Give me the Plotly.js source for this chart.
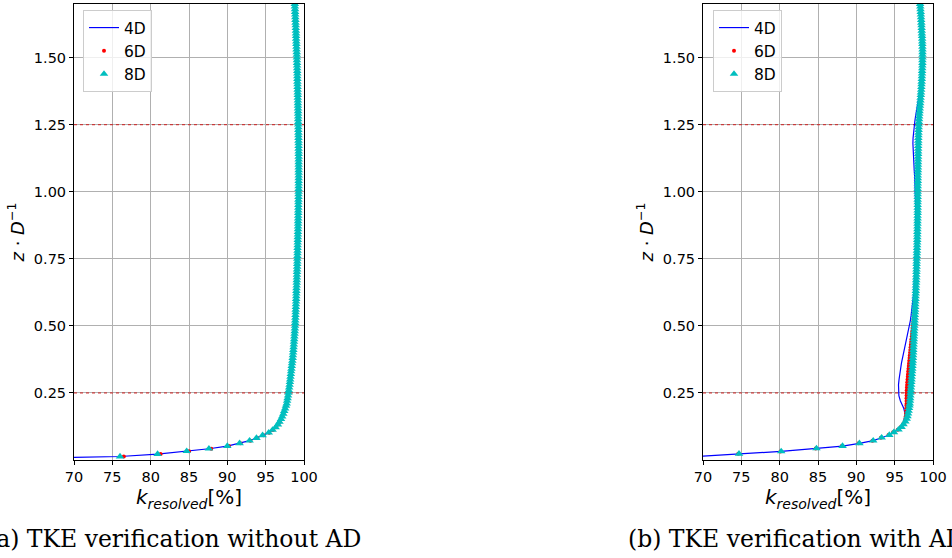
<!DOCTYPE html>
<html>
<head>
<meta charset="utf-8">
<script src="https://cdn.plot.ly/plotly-3.0.1.min.js"></script>
<style>
  html, body { margin: 0; padding: 0; background: #ffffff; }
  #chart { width: 952px; height: 558px; }
</style>
</head>
<body>
<div id="chart"></div>
<script>
// ---------------- DATA ----------------
// Heights z/D near the ground for panel (a) and panel (b)
const zLowA = [0.003, 0.013, 0.022, 0.033, 0.042, 0.052, 0.062, 0.072, 0.082, 0.092, 0.102,
               0.112, 0.122, 0.132, 0.142, 0.152, 0.162, 0.172, 0.182, 0.192, 0.202];
const zLowB = [0.008, 0.023, 0.032, 0.043, 0.052, 0.062, 0.072, 0.083, 0.093, 0.103,
               0.113, 0.123, 0.133, 0.143, 0.153, 0.163, 0.173, 0.183, 0.193, 0.203];
// Heights z/D above 0.2 (0.01 spacing), shared by both panels
const zUp = [0.21, 0.22, 0.23, 0.24, 0.25, 0.26, 0.27, 0.28, 0.29, 0.30,
             0.31, 0.32, 0.33, 0.34, 0.35, 0.36, 0.37, 0.38, 0.39, 0.40,
             0.41, 0.42, 0.43, 0.44, 0.45, 0.46, 0.47, 0.48, 0.49, 0.50,
             0.51, 0.52, 0.53, 0.54, 0.55, 0.56, 0.57, 0.58, 0.59, 0.60,
             0.61, 0.62, 0.63, 0.64, 0.65, 0.66, 0.67, 0.68, 0.69, 0.70,
             0.71, 0.72, 0.73, 0.74, 0.75, 0.76, 0.77, 0.78, 0.79, 0.80,
             0.81, 0.82, 0.83, 0.84, 0.85, 0.86, 0.87, 0.88, 0.89, 0.90,
             0.91, 0.92, 0.93, 0.94, 0.95, 0.96, 0.97, 0.98, 0.99, 1.00,
             1.01, 1.02, 1.03, 1.04, 1.05, 1.06, 1.07, 1.08, 1.09, 1.10,
             1.11, 1.12, 1.13, 1.14, 1.15, 1.16, 1.17, 1.18, 1.19, 1.20,
             1.21, 1.22, 1.23, 1.24, 1.25, 1.26, 1.27, 1.28, 1.29, 1.30,
             1.31, 1.32, 1.33, 1.34, 1.35, 1.36, 1.37, 1.38, 1.39, 1.40,
             1.41, 1.42, 1.43, 1.44, 1.45, 1.46, 1.47, 1.48, 1.49, 1.50,
             1.51, 1.52, 1.53, 1.54, 1.55, 1.56, 1.57, 1.58, 1.59, 1.60,
             1.61, 1.62, 1.63, 1.64, 1.65, 1.66, 1.67, 1.68, 1.69, 1.70];
// Coarser heights (0.02 spacing) for the 4D line in panel (b)
const zLineB = [0.22, 0.24, 0.26, 0.28, 0.30, 0.32, 0.34, 0.36, 0.38, 0.40, 0.42, 0.44, 0.46, 0.48, 0.50,
                0.52, 0.54, 0.56, 0.58, 0.60, 0.62, 0.64, 0.66, 0.68, 0.70, 0.72, 0.74, 0.76, 0.78, 0.80,
                0.82, 0.84, 0.86, 0.88, 0.90, 0.92, 0.94, 0.96, 0.98, 1.00, 1.02, 1.04, 1.06, 1.08, 1.10,
                1.12, 1.14, 1.16, 1.18, 1.20, 1.22, 1.24, 1.26, 1.28, 1.30, 1.32, 1.34, 1.36, 1.38, 1.40,
                1.42, 1.44, 1.46, 1.48, 1.50, 1.52, 1.54, 1.56, 1.58, 1.60, 1.62, 1.64, 1.66, 1.68, 1.70];

// Panel (a): TKE verification without AD — k_resolved [%]
const kLowA4D = [59.0, 76.0, 80.9, 84.7, 87.6, 90.0, 91.6, 92.9, 93.8, 94.6, 95.4,
                 95.9, 96.3, 96.6, 96.8, 97.0, 97.15, 97.3, 97.42, 97.54, 97.65];
const kLowA6D = [59.3, 76.5, 81.3, 85.0, 87.9, 90.2, 91.7, 93.0, 93.9, 94.7, 95.45,
                 95.95, 96.32, 96.62, 96.82, 97.0, 97.15, 97.3, 97.42, 97.54, 97.65];
const kLowA8D = [59.0, 76.0, 80.9, 84.7, 87.6, 90.0, 91.6, 92.9, 93.8, 94.6, 95.4,
                 95.9, 96.3, 96.6, 96.8, 97.0, 97.15, 97.3, 97.42, 97.54, 97.65];
// above z/D = 0.2 the three distances coincide in panel (a)
const kUpA = [97.74, 97.8, 97.86, 97.92, 97.97, 98.02, 98.07, 98.12, 98.16, 98.2,
              98.24, 98.28, 98.32, 98.36, 98.4, 98.44, 98.48, 98.52, 98.55, 98.58,
              98.61, 98.64, 98.67, 98.69, 98.72, 98.74, 98.77, 98.79, 98.81, 98.83,
              98.85, 98.86, 98.88, 98.89, 98.91, 98.92, 98.94, 98.95, 98.97, 98.98,
              98.99, 99.0, 99.01, 99.02, 99.04, 99.05, 99.06, 99.07, 99.08, 99.09,
              99.1, 99.11, 99.12, 99.13, 99.13, 99.14, 99.15, 99.16, 99.16, 99.17,
              99.18, 99.19, 99.19, 99.2, 99.21, 99.22, 99.22, 99.23, 99.23, 99.24,
              99.24, 99.25, 99.25, 99.26, 99.26, 99.27, 99.27, 99.28, 99.28, 99.29,
              99.29, 99.29, 99.3, 99.3, 99.3, 99.3, 99.3, 99.3, 99.3, 99.3,
              99.3, 99.3, 99.3, 99.3, 99.3, 99.29, 99.29, 99.29, 99.28, 99.28,
              99.27, 99.27, 99.26, 99.26, 99.25, 99.25, 99.24, 99.24, 99.23, 99.23,
              99.22, 99.21, 99.2, 99.2, 99.19, 99.19, 99.18, 99.17, 99.16, 99.15,
              99.14, 99.14, 99.13, 99.13, 99.12, 99.11, 99.1, 99.09, 99.08, 99.07,
              99.06, 99.05, 99.03, 99.02, 99.01, 99.0, 98.98, 98.97, 98.96, 98.95,
              98.93, 98.92, 98.9, 98.89, 98.87, 98.86, 98.84, 98.83, 98.81, 98.8];

// Panel (b): TKE verification with AD — k_resolved [%]
const kLowB4D = [66.0, 74.7, 80.2, 84.8, 88.2, 90.4, 92.2, 93.3, 94.3, 94.9,
                 95.45, 95.85, 96.1, 96.2, 96.28, 96.33, 96.35, 96.3, 96.18, 96.02];
const kLowB6D = [65.9, 74.6, 80.1, 84.7, 88.1, 90.3, 92.1, 93.2, 94.2, 94.8,
                 95.4, 95.8, 96.1, 96.3, 96.4, 96.45, 96.48, 96.5, 96.52, 96.54];
const kLowB8D = [66.0, 74.7, 80.2, 84.8, 88.2, 90.4, 92.2, 93.3, 94.3, 94.9,
                 95.5, 95.9, 96.15, 96.4, 96.57, 96.67, 96.75, 96.82, 96.88, 96.93];
const kLineB4D = [95.75, 95.55, 95.48, 95.5, 95.57, 95.65, 95.75, 95.88, 96.02, 96.17, 96.32, 96.47, 96.62, 96.77, 96.95,
                  97.05, 97.15, 97.25, 97.35, 97.42, 97.48, 97.53, 97.57, 97.6, 97.63, 97.65, 97.67, 97.69, 97.71, 97.73,
                  97.74, 97.75, 97.75, 97.76, 97.76, 97.76, 97.75, 97.74, 97.72, 97.7, 97.67, 97.63, 97.6, 97.55, 97.5,
                  97.46, 97.42, 97.39, 97.38, 97.4, 97.45, 97.55, 97.62, 97.72, 97.85, 97.97, 98.1, 98.22, 98.35, 98.45,
                  98.5, 98.55, 98.6, 98.62, 98.63, 98.63, 98.62, 98.6, 98.57, 98.53, 98.5, 98.46, 98.42, 98.37, 98.32];
const kUpB8D = [96.97, 97.0, 97.02, 97.05, 97.07, 97.1, 97.12, 97.15, 97.17, 97.2,
                97.22, 97.25, 97.27, 97.3, 97.32, 97.34, 97.36, 97.38, 97.4, 97.42,
                97.43, 97.45, 97.47, 97.48, 97.5, 97.51, 97.53, 97.54, 97.56, 97.57,
                97.58, 97.6, 97.62, 97.63, 97.65, 97.66, 97.68, 97.69, 97.71, 97.72,
                97.73, 97.75, 97.76, 97.77, 97.78, 97.8, 97.81, 97.82, 97.83, 97.84,
                97.85, 97.86, 97.86, 97.87, 97.88, 97.89, 97.9, 97.91, 97.92, 97.93,
                97.94, 97.95, 97.95, 97.96, 97.96, 97.97, 97.97, 97.98, 97.98, 97.99,
                97.99, 98.0, 98.0, 98.0, 98.0, 98.0, 98.0, 98.0, 98.0, 98.0,
                98.0, 98.01, 98.01, 98.02, 98.02, 98.02, 98.02, 98.03, 98.03, 98.04,
                98.04, 98.05, 98.05, 98.06, 98.06, 98.07, 98.07, 98.08, 98.08, 98.09,
                98.1, 98.11, 98.12, 98.13, 98.14, 98.16, 98.18, 98.2, 98.22, 98.25,
                98.27, 98.3, 98.33, 98.36, 98.38, 98.41, 98.43, 98.46, 98.48, 98.5,
                98.52, 98.54, 98.55, 98.57, 98.58, 98.6, 98.61, 98.62, 98.62, 98.63,
                98.63, 98.63, 98.63, 98.62, 98.61, 98.6, 98.59, 98.57, 98.55, 98.53,
                98.52, 98.5, 98.48, 98.46, 98.44, 98.42, 98.4, 98.37, 98.35, 98.32];
// 6D in panel (b) between z/D 0.21 and 0.60 (above that it coincides with 8D)
const kMidB6D = [96.55, 96.55, 96.55, 96.56, 96.56, 96.58, 96.6, 96.62, 96.65, 96.68,
                 96.71, 96.74, 96.77, 96.8, 96.84, 96.87, 96.9, 96.94, 96.97, 97.01,
                 97.04, 97.08, 97.11, 97.15, 97.19, 97.23, 97.27, 97.31, 97.35, 97.39,
                 97.43, 97.47, 97.51, 97.55, 97.58, 97.62, 97.65, 97.67, 97.7, 97.72];

const seriesNames = ['4D', '6D', '8D'];
const refLevels = [0.25, 1.25];           // red dotted reference heights
const xRange = [70, 100];
const yRange = [0, 1.7];
const xTicks = [70, 75, 80, 85, 90, 95, 100];
const yTicks = [0.25, 0.50, 0.75, 1.00, 1.25, 1.50];
const yTickText = ['0.25', '0.50', '0.75', '1.00', '1.25', '1.50'];
const captions = ['(a) TKE verification without AD', '(b) TKE verification with AD'];

// ---------------- TRACES ----------------
const W = 952, H = 558;
const zA = zLowA.concat(zUp);
const zB = zLowB.concat(zUp);
const zB4D = zLowB.concat(zLineB);
const kB6D = kLowB6D.concat(kMidB6D, kUpB8D.slice(kMidB6D.length));

function mk(name, k, z, xa, ya, leg) {
  const t = { x: k, y: z, name: name, xaxis: xa, yaxis: ya, legend: leg, showlegend: true,
              type: 'scatter', cliponaxis: true, hoverinfo: 'skip' };
  if (name === '4D') { t.mode = 'lines'; t.line = { color: '#0000ff', width: 1.2 }; }
  if (name === '6D') { t.mode = 'markers'; t.marker = { color: '#ff0000', size: 4, symbol: 'circle' }; }
  if (name === '8D') { t.mode = 'markers'; t.marker = { color: '#00bfbf', size: 7.5, symbol: 'triangle-up', line: { width: 0 } }; }
  return t;
}

// reference heights drawn first (under the profiles, above the grid)
const refTraces = [];
[['x', 'y'], ['x2', 'y2']].forEach(function (ax) {
  refLevels.forEach(function (lv) {
    refTraces.push({ type: 'scatter', mode: 'lines', x: xRange, y: [lv, lv], xaxis: ax[0], yaxis: ax[1],
                     showlegend: false, hoverinfo: 'skip', line: { color: 'rgb(205,30,30)', width: 1, dash: 'dot' } });
  });
});

const data = refTraces.concat([
  mk(seriesNames[0], kLowA4D.concat(kUpA), zA, 'x', 'y', 'legend'),
  mk(seriesNames[1], kLowA6D.concat(kUpA), zA, 'x', 'y', 'legend'),
  mk(seriesNames[2], kLowA8D.concat(kUpA), zA, 'x', 'y', 'legend'),
  mk(seriesNames[0], kLowB4D.concat(kLineB4D), zB4D, 'x2', 'y2', 'legend2'),
  mk(seriesNames[1], kB6D, zB, 'x2', 'y2', 'legend2'),
  mk(seriesNames[2], kLowB8D.concat(kUpB8D), zB, 'x2', 'y2', 'legend2')
]);

// ---------------- LAYOUT ----------------
const tickFont = { family: 'DejaVu Sans', size: 14.5, color: '#000000' };
function xax(domain, anchor) {
  return {
    domain: domain, anchor: anchor, range: xRange, tickvals: xTicks, ticks: 'outside', ticklen: 4,
    tickcolor: '#000000', tickfont: tickFont, showline: true, mirror: true, linecolor: '#000000', linewidth: 1,
    showgrid: true, gridcolor: '#b0b0b0', gridwidth: 1, zeroline: false,
    title: { text: '<i>k</i><sub><i>resolved</i></sub>[%]', font: { family: 'DejaVu Sans', size: 20, color: '#000' }, standoff: 2 }
  };
}
function yax(anchor) {
  return {
    domain: [1 - 460 / H, 1 - 4 / H], anchor: anchor, range: yRange, tickvals: yTicks, ticktext: yTickText,
    ticks: 'outside', ticklen: 4, tickcolor: '#000000', tickfont: tickFont, showline: true, mirror: true,
    linecolor: '#000000', linewidth: 1, showgrid: true, gridcolor: '#b0b0b0', gridwidth: 1, zeroline: false,
    title: { text: '<i>z</i> · <i>D</i><sup>−1</sup>', font: { family: 'DejaVu Sans', size: 18, color: '#000' }, standoff: 4 }
  };
}
function legendAt(px) {
  return {
    x: px / W, y: 1 - 10 / H, xref: 'paper', yref: 'paper', xanchor: 'left', yanchor: 'top',
    bgcolor: 'rgba(255,255,255,0.8)', bordercolor: '#cccccc', borderwidth: 1,
    font: { family: 'DejaVu Sans', size: 15.5, color: '#000' }, itemwidth: 30, tracegroupgap: 0
  };
}

const layout = {
  width: W, height: H, margin: { l: 0, r: 0, t: 0, b: 0 },
  paper_bgcolor: '#ffffff', plot_bgcolor: '#ffffff',
  font: { family: 'DejaVu Sans', color: '#000' },
  xaxis: xax([74 / W, 304 / W], 'y'),
  yaxis: yax('x'),
  xaxis2: xax([703 / W, 933 / W], 'y2'),
  yaxis2: yax('x2'),
  legend: legendAt(83),
  legend2: legendAt(713),
  annotations: [
    { text: captions[0], xref: 'paper', yref: 'paper', x: 363 / W, y: (H - 539) / H, xanchor: 'right', yanchor: 'middle',
      showarrow: false, font: { family: 'DejaVu Serif', size: 23.5, color: '#000' } },
    { text: captions[1], xref: 'paper', yref: 'paper', x: 626 / W, y: (H - 539) / H, xanchor: 'left', yanchor: 'middle',
      showarrow: false, font: { family: 'DejaVu Serif', size: 23.5, color: '#000' } }
  ],
  showlegend: true
};

Plotly.newPlot('chart', data, layout, { staticPlot: true, displayModeBar: false });
</script>
</body>
</html>
